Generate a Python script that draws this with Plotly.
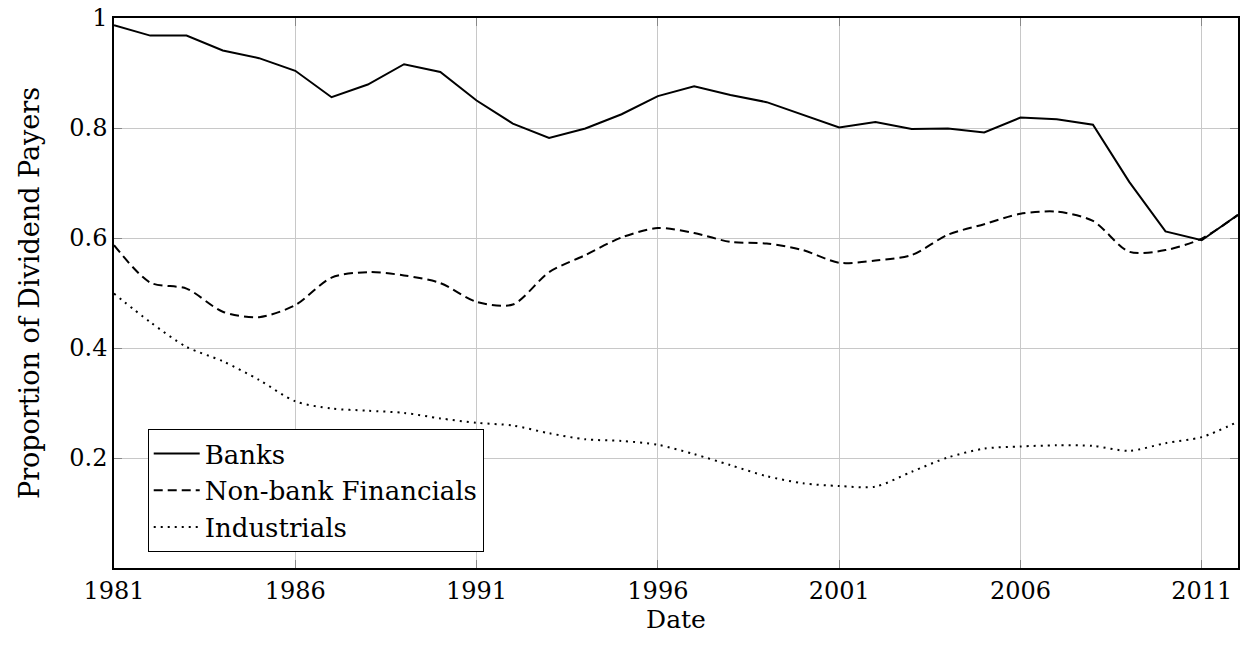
import plotly.graph_objects as go

years = list(range(1981, 2013))

banks = [0.987, 0.968, 0.968, 0.941, 0.927, 0.904, 0.856, 0.879, 0.916, 0.902,
         0.850, 0.808, 0.782, 0.799, 0.825, 0.858, 0.876, 0.860, 0.847, 0.824,
         0.801, 0.811, 0.798, 0.799, 0.792, 0.819, 0.816, 0.806, 0.702, 0.612,
         0.596, 0.642]

nonbank = [0.587, 0.519, 0.508, 0.466, 0.456, 0.478, 0.528, 0.538, 0.532, 0.518,
           0.484, 0.479, 0.538, 0.569, 0.601, 0.618, 0.609, 0.593, 0.590, 0.578,
           0.555, 0.559, 0.569, 0.606, 0.625, 0.644, 0.648, 0.631, 0.575, 0.578,
           0.599, 0.642]

industrials = [0.499, 0.447, 0.402, 0.376, 0.342, 0.303, 0.290, 0.286, 0.282, 0.272,
               0.264, 0.259, 0.245, 0.234, 0.231, 0.224, 0.207, 0.187, 0.167, 0.154,
               0.149, 0.148, 0.175, 0.201, 0.217, 0.221, 0.223, 0.222, 0.213, 0.227,
               0.238, 0.266]

x_ticks = [1981, 1986, 1991, 1996, 2001, 2006, 2011]
y_ticks = [0.2, 0.4, 0.6, 0.8, 1.0]
y_tick_text = ["0.2", "0.4", "0.6", "0.8", "1"]

FONT = "DejaVu Serif"
FS_TICK = 24

fig = go.Figure()
fig.add_trace(go.Scatter(x=years, y=banks, mode="lines", name="Banks",
                         line=dict(color="black", width=2)))
fig.add_trace(go.Scatter(x=years, y=nonbank, mode="lines", name="Non-bank Financials",
                         line=dict(color="black", width=2, dash="9px,5px",
                                   shape="spline", smoothing=0.8)))
fig.add_trace(go.Scatter(x=years, y=industrials, mode="lines", name="Industrials",
                         line=dict(color="black", width=2, dash="2px,5px",
                                   shape="spline", smoothing=0.8)))

axis_common = dict(
    showgrid=True, gridcolor="#c8c8c8", gridwidth=1,
    showline=True, linecolor="black", linewidth=1.5, mirror="ticks",
    ticks="inside", ticklen=8, tickcolor="#888888", tickwidth=1,
    zeroline=False,
    tickfont=dict(family=FONT, size=FS_TICK, color="black"),
)

fig.update_xaxes(range=[1981, 2012], tickvals=x_ticks, automargin=True,
                 title=dict(text="Date", font=dict(family=FONT, size=25, color="black"),
                            standoff=2),
                 **axis_common)
fig.update_yaxes(range=[0, 1], tickvals=y_ticks, ticktext=y_tick_text,
                 title=dict(text="Proportion of Dividend Payers",
                            font=dict(family=FONT, size=27, color="black"),
                            standoff=22),
                 **axis_common)

fig.update_layout(
    width=1244, height=649,
    margin=dict(l=114, r=4, t=17, b=81),
    plot_bgcolor="white", paper_bgcolor="white",
    font=dict(family=FONT, size=FS_TICK, color="black"),
    showlegend=True,
    legend=dict(x=0.03, y=0.029, xanchor="left", yanchor="bottom",
                bgcolor="white", bordercolor="black", borderwidth=1,
                itemwidth=46, tracegroupgap=0,
                font=dict(family=FONT, size=26, color="black")),
)

fig.write_html("out.html",
               config={"displayModeBar": False},
               post_script="document.body.style.margin='0';document.body.style.overflow='hidden';")
